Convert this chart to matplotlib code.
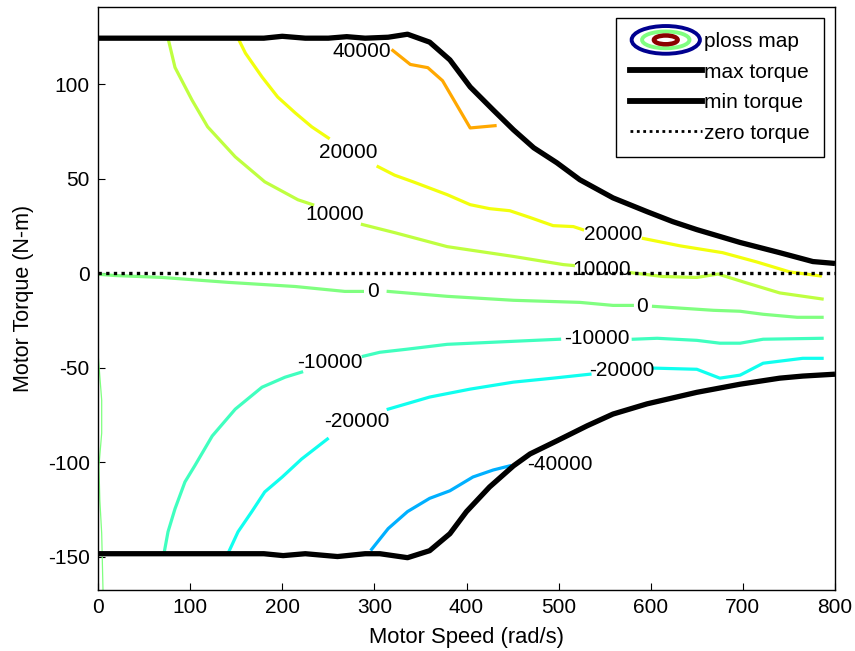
import numpy as np
import matplotlib
matplotlib.use("Agg")
import matplotlib.pyplot as plt
from matplotlib.patches import Ellipse
from matplotlib.legend_handler import HandlerBase
from matplotlib.lines import Line2D

plt.rcParams['font.family'] = ['Liberation Sans', 'DejaVu Sans']
plt.rcParams['axes.unicode_minus'] = False

nan = np.nan
FS = 15

# ---- boundary curves ----
max_speed = [0, 180, 200, 225, 250, 270, 290, 315, 336, 360, 382, 404, 429, 451, 473,
             498, 523, 559, 596, 624, 650, 668, 697, 740, 776, 800]
max_torque = [124.5, 124.5, 125.5, 124.5, 124.5, 125.3, 124.5, 125, 126.6, 122.4, 113,
              98.7, 86.5, 76, 66.5, 58.6, 49.6, 40, 32.7, 27.4, 23.2, 20.6, 16.4, 11, 6.3, 5.3]

min_speed = [0, 180, 201, 225, 260, 290, 306, 336, 360, 382, 400, 425, 451, 469, 498,
             531, 559, 596, 650, 697, 740, 765, 800]
min_torque = [-148.3, -148.3, -149.3, -148.3, -149.8, -148.3, -148.3, -150.4, -146.7,
              -137.7, -126, -113, -101.8, -95.5, -88.6, -80.6, -74.4, -69, -62.9, -58.6,
              -55.4, -54.3, -53.3]

zero_speed = [0, 800]
zero_torque = [0, 0]

# ---- contour lines of the ploss map (NaN = gap for inline label) ----
c40_w = [320, 339, 358, 374, 404, 431]
c40_t = [118, 110.6, 108.9, 102, 77, 78.2]

c20_w = [152, 160, 178, 195, 214, 232, 250, nan, 304, 322, 342, 379, 404, 425, 447, 469,
         494, 516, 526, nan, 592, 632, 678, 715, 751, 784]
c20_t = [124.5, 116.6, 104, 93.4, 85, 77.6, 71.7, nan, 56.5, 52, 48.5, 41.7, 36.4, 34.3,
         33.2, 29.6, 25.3, 24.8, 23.2, nan, 18.5, 14.6, 11, 6.1, 0.8, -1.3]

c10_w = [76, 83.6, 102, 119, 149, 181, 217, 233, nan, 287, 322, 379, 451, 505, 516, nan,
         577, 613, 650, 673, 704, 740, 786]
c10_t = [124.5, 109, 91.8, 77.6, 61.7, 48.5, 39, 36.4, nan, 25.9, 21.6, 14.2, 9, 4.7, 4.2,
         nan, 0.5, -1.6, -2.1, -0.3, -5, -10.3, -13.5]

c0_w = [2, 18.5, 69.5, 141, 214, 268, 287, nan, 315, 379, 451, 523, 559, 580, nan, 603,
        668, 697, 722, 759, 786]
c0_t = [-0.5, -1.1, -2.1, -4.7, -6.9, -9.5, -9.5, nan, -9.5, -12.1, -14.2, -15.3, -16.9,
        -16.9, nan, -17.4, -19.5, -20, -21.6, -23.2, -23.2]

c0b_w = [0, 4, 4, 1, 2, 4, 5.5]
c0b_t = [-42, -67, -84.5, -102, -120, -137.5, -169]

cm10_w = [71.6, 76, 83.6, 94.4, 105, 124, 149, 178, 203, 221, nan, 288, 306, 335, 379, 451,
          501, nan, 581, 607, 650, 675, 697, 722, 786]
cm10_t = [-148.3, -136.7, -124.5, -110.3, -101.8, -86, -71.8, -60.2, -54.9, -52.2, nan,
          -43.8, -41.7, -40.1, -37.5, -35.9, -34.8, nan, -34.8, -34.3, -35.4, -36.9, -36.9,
          -34.8, -34.3]

cm20_w = [141, 152, 167, 181, 200, 221, 249, nan, 315, 360, 404, 451, 494, 534, nan, 604,
          650, 675, 697, 722, 765, 786]
cm20_t = [-148.3, -136.7, -126, -115.6, -107.7, -98.2, -87.6, nan, -71.8, -65.4, -61.2,
          -57.5, -55.4, -53.3, nan, -50.1, -50.7, -55.4, -53.8, -47.5, -44.9, -44.9]

cm40_w = [297, 315, 336, 360, 382, 407, 429, 447]
cm40_t = [-146, -135, -126, -119, -115, -107.7, -104, -101.8]

# contour label texts and positions
label_text = ['40000', '20000', '20000', '10000', '10000', '0', '0',
              '-10000', '-10000', '-20000', '-20000', '-40000']
label_w = [286.6, 271.4, 559, 257.3, 547, 298.5, 590.5, 251.8, 541.7, 281, 568.8, 501.5]
label_t = [117.2, 63.9, 20.6, 31.1, 2.1, -9.5, -17.4, -47, -34.3, -78.1, -51.2, -101.3]

colors = {
    '40000': '#FFA800', '20000': '#F2FF0D', '10000': '#BFFF40', '0': '#80FF80',
    '-10000': '#40FFBF', '-20000': '#10FFEF', '-40000': '#00B0FF',
}

fig = plt.figure(figsize=(8.55, 6.51), dpi=100)
ax = fig.add_axes([98 / 855, 61 / 651, 737 / 855, 583 / 651])

clw = 2.3
ax.plot(c40_w, c40_t, color=colors['40000'], lw=clw)
ax.plot(c20_w, c20_t, color=colors['20000'], lw=clw)
ax.plot(c10_w, c10_t, color=colors['10000'], lw=clw)
ax.plot(c0_w, c0_t, color=colors['0'], lw=clw)
ax.plot(c0b_w, c0b_t, color=colors['0'], lw=0.9)
ax.plot(cm10_w, cm10_t, color=colors['-10000'], lw=clw)
ax.plot(cm20_w, cm20_t, color=colors['-20000'], lw=clw)
ax.plot(cm40_w, cm40_t, color=colors['-40000'], lw=clw)

for txt, w, t in zip(label_text, label_w, label_t):
    ax.text(w, t, txt, ha='center', va='center', fontsize=FS, color='black')

ax.plot(max_speed, max_torque, color='black', lw=3.8, solid_capstyle='butt')
ax.plot(min_speed, min_torque, color='black', lw=3.8, solid_capstyle='butt')
ax.plot(zero_speed, zero_torque, color='black', lw=2.4, linestyle=(0, (1, 1.3)))

ax.set_xlim(0, 800)
ax.set_ylim(-167.5, 141)
ax.set_xticks([0, 100, 200, 300, 400, 500, 600, 700, 800])
ax.set_yticks([-150, -100, -50, 0, 50, 100])
ax.tick_params(direction='in', length=5, width=0.8, top=False, right=False,
               labelsize=FS, pad=6)
for s in ax.spines.values():
    s.set_linewidth(1.0)

ax.set_xlabel('Motor Speed (rad/s)', fontsize=15.8, labelpad=7)
ax.set_ylabel('Motor Torque (N-m)', fontsize=15.5, labelpad=10)


class EllipseHandler(HandlerBase):
    def create_artists(self, legend, orig_handle, xdescent, ydescent, width, height,
                       fontsize, trans):
        cx = width / 2 - xdescent
        cy = height / 2 - ydescent
        e1 = Ellipse((cx, cy), width * 0.95, height * 1.9, fill=False, ec='#00008F',
                     lw=2.8, transform=trans)
        e2 = Ellipse((cx, cy), width * 0.66, height * 1.15, fill=False, ec='#80FF80',
                     lw=2.8, transform=trans)
        e3 = Ellipse((cx, cy), width * 0.33, height * 0.6, fill=False, ec='#8B0000',
                     lw=3.2, transform=trans)
        return [e1, e2, e3]


ploss_proxy = Line2D([], [], color='none')
h_max = Line2D([], [], color='black', lw=4.2)
h_min = Line2D([], [], color='black', lw=4.2)
h_zero = Line2D([], [], color='black', lw=2.0, linestyle=(0, (1, 1.3)))

leg = ax.legend([ploss_proxy, h_max, h_min, h_zero],
                ['ploss map', 'max torque', 'min torque', 'zero torque'],
                handler_map={ploss_proxy: EllipseHandler()},
                loc='upper right', bbox_to_anchor=(824 / 855, 1 - 18 / 651),
                bbox_transform=fig.transFigure, fontsize=FS, frameon=True,
                fancybox=False, shadow=False, framealpha=1, edgecolor='black',
                handlelength=3.45, handletextpad=0.12, labelspacing=0.55,
                borderpad=0.68, borderaxespad=0)
leg.get_frame().set_linewidth(1.0)

fig.savefig('out.png', dpi=100)
